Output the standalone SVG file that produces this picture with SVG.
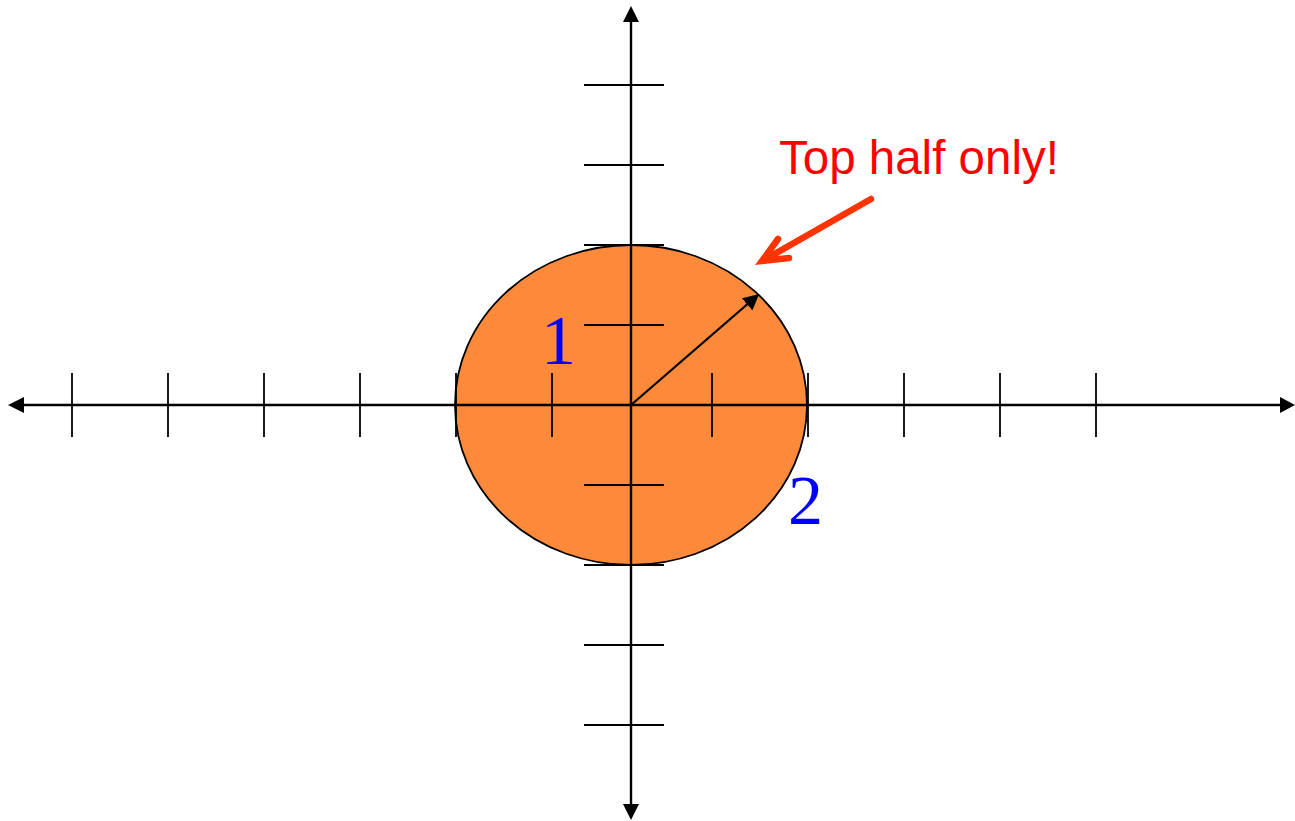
<svg xmlns="http://www.w3.org/2000/svg" width="1295" height="821" viewBox="0 0 1295 821">
<style>
.ax{stroke:#000;stroke-width:2.4;fill:none}
.tk{stroke:#000;stroke-width:1.8}
.num{font-family:"Liberation Serif",serif;font-size:70px;fill:#0000ff}
</style>
<defs>
<marker id="ahb" viewBox="0 0 10 10" refX="9" refY="5" markerWidth="16" markerHeight="16" markerUnits="userSpaceOnUse" orient="auto">
<path d="M0,0 L10,5 L0,10 z" fill="#000"/>
</marker>
</defs>
<rect width="1295" height="821" fill="#fff"/>
<g id="circle">
<ellipse cx="631" cy="405" rx="176" ry="160" fill="#fd8a3a" stroke="#000" stroke-width="1.8"/>
</g>
<g id="axes">
<line class="ax" x1="24" y1="405" x2="1280" y2="405"/>
<path d="M8,405 L24,397 L24,413 z" fill="#000"/>
<path d="M1295,405 L1280,397 L1280,413 z" fill="#000"/>
<line class="ax" x1="631" y1="22" x2="631" y2="804"/>
<path d="M631,6 L623,22 L639,22 z" fill="#000"/>
<path d="M631,820 L623,804 L639,804 z" fill="#000"/>
</g>
<g id="ticks">
<line class="tk" x1="72" y1="373" x2="72" y2="437"/>
<line class="tk" x1="168" y1="373" x2="168" y2="437"/>
<line class="tk" x1="264" y1="373" x2="264" y2="437"/>
<line class="tk" x1="360" y1="373" x2="360" y2="437"/>
<line class="tk" x1="456" y1="373" x2="456" y2="437"/>
<line class="tk" x1="552" y1="373" x2="552" y2="437"/>
<line class="tk" x1="712" y1="373" x2="712" y2="437"/>
<line class="tk" x1="808" y1="373" x2="808" y2="437"/>
<line class="tk" x1="904" y1="373" x2="904" y2="437"/>
<line class="tk" x1="1000" y1="373" x2="1000" y2="437"/>
<line class="tk" x1="1096" y1="373" x2="1096" y2="437"/>
<line class="tk" x1="584" y1="85" x2="664" y2="85"/>
<line class="tk" x1="584" y1="165" x2="664" y2="165"/>
<line class="tk" x1="584" y1="245" x2="664" y2="245"/>
<line class="tk" x1="584" y1="325" x2="664" y2="325"/>
<line class="tk" x1="584" y1="485" x2="664" y2="485"/>
<line class="tk" x1="584" y1="565" x2="664" y2="565"/>
<line class="tk" x1="584" y1="645" x2="664" y2="645"/>
<line class="tk" x1="584" y1="725" x2="664" y2="725"/>
</g>
<g id="connectors">
<line x1="631" y1="405" x2="758" y2="295" stroke="#000" stroke-width="2.2" marker-end="url(#ahb)"/>
<g stroke="#ff3300" stroke-width="6.5" stroke-linecap="round" fill="none">
<line x1="871" y1="199" x2="764" y2="260"/>
<polyline points="778,239 762,261 789,258"/>
</g>
</g>
<g id="labels">
<text class="num" x="541" y="364">1</text>
<text class="num" x="788" y="524">2</text>
<text x="779" y="174" font-family="Liberation Sans,Arial,sans-serif" font-size="47.5" fill="#ff0000">Top half only!</text>
</g>
</svg>
